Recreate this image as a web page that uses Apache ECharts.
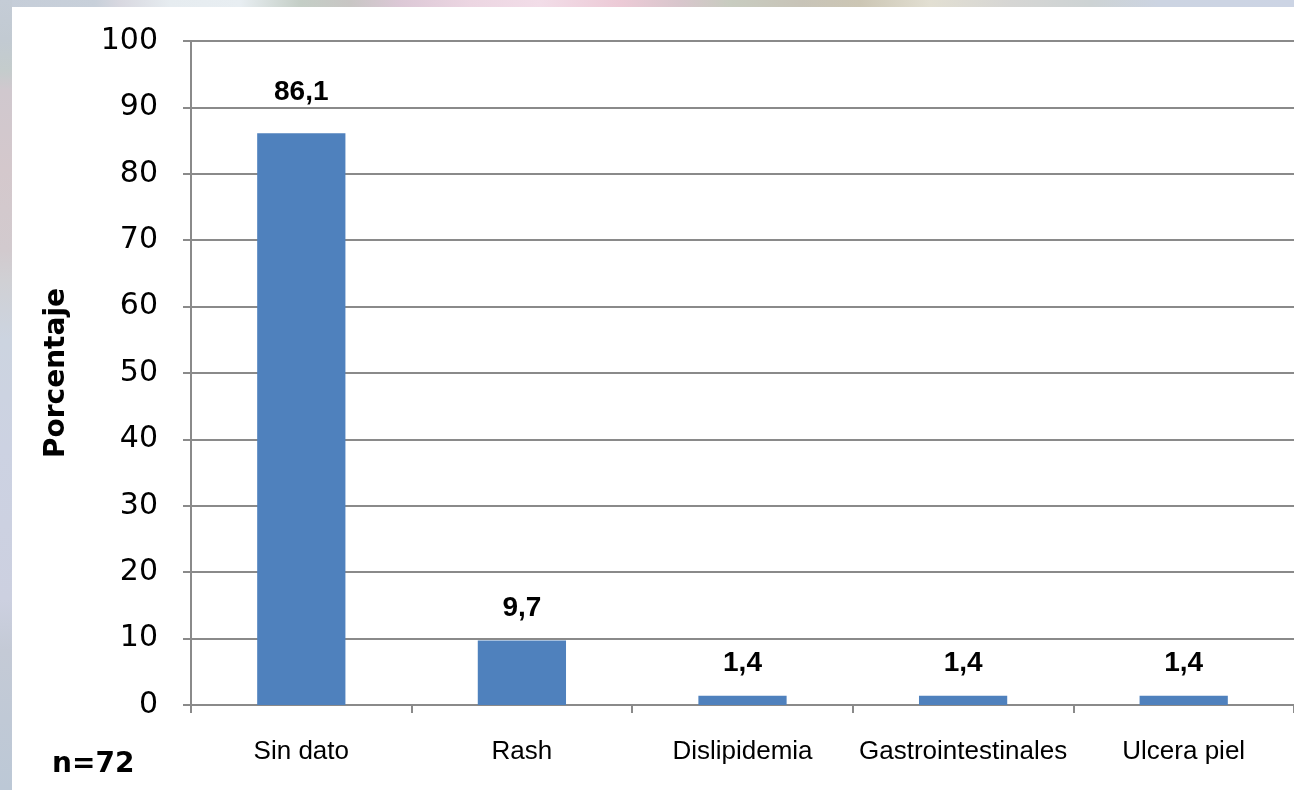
<!DOCTYPE html>
<html>
<head>
<meta charset="utf-8">
<script src="https://cdn.jsdelivr.net/npm/echarts@6/dist/echarts.min.js"></script>
<style>
  html, body { margin: 0; padding: 0; width: 1294px; height: 790px; overflow: hidden; }
  body { position: relative; background: #c8d0dc; }
  #topband {
    position: absolute; left: 0; top: 0; width: 1294px; height: 7px;
    background: linear-gradient(to right,
      #c5cdd8 0px, #c8d0da 95px, #d8d8e0 120px, #e6ecf0 170px, #e8eef2 240px,
      #c4cec6 300px, #c8c6c4 350px, #dcc8d6 400px, #ecd6e2 470px, #f2dde8 540px,
      #eccad6 620px, #d8c6cc 680px, #c8ccc0 730px, #c8c4b8 800px, #ccc6b4 860px,
      #e2dfd2 930px, #d6d6d4 1010px, #cdd3d4 1090px, #ccd4e2 1160px, #ccd4e4 1294px);
  }
  #leftband {
    position: absolute; left: 0; top: 0; width: 12px; height: 790px;
    background: linear-gradient(to bottom,
      #c4ccd6 0px, #c2cad2 40px, #c4cccc 70px, #d0c8ce 90px, #d4c8cc 170px,
      #d2cace 250px, #d0d0d4 280px, #ccd4e0 340px, #ccd2e2 450px, #ccd0e0 600px,
      #c4cad6 650px, #bcc8d6 790px);
  }
  #chart { position: absolute; left: 12px; top: 7px; width: 1282px; height: 783px; background: #ffffff; }
</style>
</head>
<body>
<div id="topband"></div>
<div id="leftband"></div>
<div id="chart"></div>
<script>
  // Efectos adversos reportados (porcentaje), n = 72
  const categories = ['Sin dato', 'Rash', 'Dislipidemia', 'Gastrointestinales', 'Ulcera piel'];
  const percentages = [86.1, 9.7, 1.4, 1.4, 1.4];
  const yTicks = [0, 10, 20, 30, 40, 50, 60, 70, 80, 90, 100];
  const sampleLabel = 'n=72';
  const yAxisTitle = 'Porcentaje';

  const SANS = '"Liberation Sans", Arial, sans-serif';
  const WIDE = '"DejaVu Sans", Verdana, sans-serif';
  const GRID_GREY = '#8a8a8a';

  const chart = echarts.init(document.getElementById('chart'), null, { renderer: 'canvas' });

  const barData = percentages.map((v, i) => {
    const item = { value: v };
    if (i === 0) item.label = { distance: 27 };
    return item;
  });

  chart.setOption({
    animation: false,
    backgroundColor: '#ffffff',
    grid: { left: 179, right: 0, top: 34, bottom: 85, containLabel: false },
    xAxis: {
      type: 'category',
      data: categories,
      boundaryGap: true,
      axisLine: { show: true, lineStyle: { color: GRID_GREY, width: 2 } },
      axisTick: { show: true, alignWithLabel: false, length: 8, lineStyle: { color: GRID_GREY, width: 2 } },
      axisLabel: { interval: 0, color: '#000', fontFamily: SANS, fontSize: 26, margin: 34 },
      splitLine: { show: false }
    },
    yAxis: {
      type: 'value',
      min: yTicks[0],
      max: yTicks[yTicks.length - 1],
      interval: yTicks[1] - yTicks[0],
      name: yAxisTitle,
      nameLocation: 'middle',
      nameRotate: 90,
      nameGap: 120,
      nameTextStyle: { color: '#000', fontFamily: WIDE, fontSize: 28, fontWeight: 'bold' },
      axisLine: { show: true, lineStyle: { color: GRID_GREY, width: 2 } },
      axisTick: { show: true, inside: false, length: 8, lineStyle: { color: GRID_GREY, width: 2 } },
      axisLabel: { color: '#000', fontFamily: WIDE, fontSize: 30, margin: 33 },
      splitLine: { show: true, lineStyle: { color: GRID_GREY, width: 2 } }
    },
    series: [{
      type: 'bar',
      data: barData,
      barWidth: '40%',
      itemStyle: { color: '#4f81bd' },
      label: {
        show: true,
        position: 'top',
        distance: 18,
        color: '#000',
        fontFamily: SANS,
        fontSize: 28,
        fontWeight: 'bold',
        formatter: p => String(p.value).replace('.', ',')
      }
    }],
    graphic: [{
      type: 'text',
      x: 40,
      y: 758,
      style: { text: sampleLabel, fill: '#000', font: 'bold 28px ' + WIDE, textVerticalAlign: 'middle' }
    }]
  });
</script>
</body>
</html>
